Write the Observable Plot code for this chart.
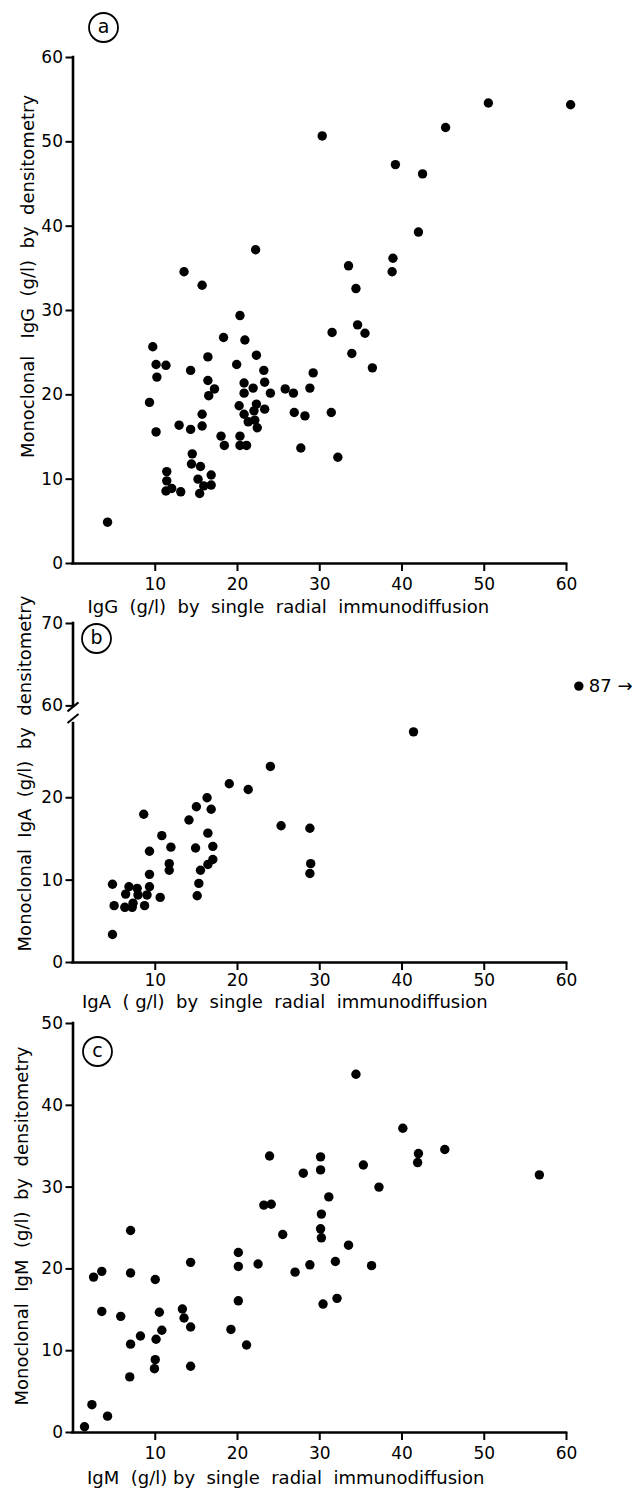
<!DOCTYPE html>
<html><head><meta charset="utf-8">
<script src="https://cdn.jsdelivr.net/npm/d3@7"></script>
<script src="https://cdn.jsdelivr.net/npm/@observablehq/plot@0.6"></script>
<style>
body{margin:0;background:#fff;}
#wrap{position:relative;width:639px;height:1488px;}
#wrap svg{position:absolute;left:0;overflow:visible;background:transparent;}
#wrap svg text{white-space:pre;}
</style></head><body><div id="wrap"></div>
<script>
// ---------- (a) IgG ----------
const igG_srid = [4.2,9.3,9.7,10.1,10.2,10.1,11.3,11.4,11.4,11.3,12.0,12.9,13.1,14.3,14.3,14.5,14.4,15.5,15.2,15.4,15.9,16.8,16.8,15.7,15.7,16.4,16.4,16.5,17.2,18.0,18.4,18.3,19.9,20.3,20.2,20.3,20.3,21.1,20.9,20.8,20.8,20.8,21.3,21.9,22.0,22.1,22.3,22.4,22.3,23.2,23.3,23.3,24.0,25.8,26.8,26.9,27.7,28.2,28.8,29.2,31.5,31.4,32.2,33.9,34.6,35.5,36.4,34.4,15.7,13.5,22.2,30.3,50.5,60.5,45.3,39.2,42.5,42.0,33.5,38.9,38.8];
const igG_dens = [4.9,19.1,25.7,23.6,22.1,15.6,23.5,10.9,9.8,8.6,8.9,16.4,8.5,22.9,15.9,13.0,11.8,11.5,10.0,8.3,9.2,10.5,9.3,17.7,16.3,24.5,21.7,19.9,20.7,15.1,14.0,26.8,23.6,29.4,18.7,15.1,14.0,14.0,26.5,21.4,20.2,17.7,16.8,20.8,18.1,17.0,18.9,16.1,24.7,22.9,21.5,18.3,20.2,20.7,20.2,17.9,13.7,17.5,20.8,22.6,27.4,17.9,12.6,24.9,28.3,27.3,23.2,32.6,33.0,34.6,37.2,50.7,54.6,54.4,51.7,47.3,46.2,39.3,35.3,36.2,34.6];
// ---------- (b) IgA ----------
const igA_srid = [4.8,5.0,4.8,6.4,6.8,6.3,7.2,7.3,7.8,7.9,8.7,8.6,9.0,9.3,9.3,9.3,10.6,10.8,11.9,11.7,11.7,14.1,14.9,15.0,15.1,15.3,15.5,16.3,16.4,16.4,16.8,17.0,17.0,19.0,21.3,24.0,25.3,28.8,28.9,28.8,41.4];
const igA_dens = [9.5,6.9,3.4,8.3,9.2,6.7,6.7,7.2,9.0,8.2,6.9,18.0,8.2,9.2,10.7,13.5,7.9,15.4,14.0,12.0,11.2,17.3,13.9,18.9,8.1,9.6,11.2,20.0,15.7,11.9,18.6,14.1,12.5,21.7,21.0,23.8,16.6,16.3,12.0,10.8,28.0];
const igA_outlier = {srid: 87, dens: 62.4, label: "87 \u2192"};
// ---------- (c) IgM ----------
const igM_srid = [1.4,2.3,4.2,2.5,3.5,3.5,5.8,7.0,7.0,7.0,6.9,8.2,10.0,10.1,10.0,9.9,10.5,10.8,13.3,13.5,14.3,14.3,14.3,19.2,20.1,20.1,20.1,21.1,22.5,23.2,24.1,23.9,25.5,27.0,28.0,28.8,30.1,30.1,30.2,30.1,30.2,30.4,31.1,31.9,32.1,33.5,34.4,35.3,36.3,37.2,40.1,41.9,42.0,45.2,56.7];
const igM_dens = [0.7,3.4,2.0,19.0,19.7,14.8,14.2,24.7,19.5,10.8,6.8,11.8,18.7,11.4,8.9,7.8,14.7,12.5,15.1,14.0,20.8,12.9,8.1,12.6,16.1,20.3,22.0,10.7,20.6,27.8,27.9,33.8,24.2,19.6,31.7,20.5,33.7,32.1,26.7,24.9,23.8,15.7,28.8,20.9,16.4,22.9,43.8,32.7,20.4,30.0,37.2,33.0,34.1,34.6,31.5];

// ---------- ticks & labels ----------
const xTicks = [10,20,30,40,50,60];
const yTicksA = [0,10,20,30,40,50,60];
const yTicksB = [0,10,20,60,70];
const yTicksC = [0,10,20,30,40,50];
const yBreakB = [29,60];   // axis break between these values (panel b)
const yTopB = 70;
const xTitles = ["IgG  (g/l)  by  single  radial  immunodiffusion", "IgA  ( g/l)  by  single  radial  immunodiffusion", "IgM  (g/l) by  single  radial  immunodiffusion"];
const yTitles = ["Monoclonal   IgG  (g/l)  by  densitometry", "Monoclonal  IgA  (g/l)  by  densitometry", "Monoclonal  IgM  (g/l)  by  densitometry"];
const letters = ["a","b","c"];

const FONT = "DejaVu Sans";
const X_MAX = 60;
const wrap = document.getElementById("wrap");

// broken-axis mapping for panel b: values above the break are shifted down
const BREAK_GAP = 2.15;
const yb = v => v <= yBreakB[0] ? v : yBreakB[0] + BREAK_GAP + (v - yBreakB[1]);

function panel(o) {
  const fy = o.fy || (v => v);
  const pts = o.xs.map((x, i) => ({x, y: o.ys[i]}));
  const tickVals = o.yTicks.map(fy);
  const marks = [
    Plot.ruleY([0], {x1: 0, x2: X_MAX, strokeWidth: 2.6, strokeLinecap: "square"}),
    ...o.yAxisSegments.map(([a, b]) => Plot.ruleX([0], {y1: fy(a), y2: fy(b), strokeWidth: 2.6, strokeLinecap: "square"})),
    Plot.axisX({ticks: xTicks, tickSize: 8, tickPadding: o.xTickPad, strokeWidth: 2, fontSize: 17, label: null, tickFormat: d => String(d)}),
    Plot.axisY({ticks: tickVals, tickSize: 7, tickPadding: 3, strokeWidth: 2, fontSize: 17, label: null, tickFormat: d => String(o.yTicks[tickVals.indexOf(d)])}),
    Plot.dot(pts, {x: "x", y: d => fy(d.y), r: 4.7, fill: "black", stroke: "none"}),
    Plot.text([o.xTitle], {text: d => d, frameAnchor: "bottom", textAnchor: "middle", lineAnchor: "middle", dx: o.xTitleDx, dy: o.xTitleDy, fontSize: 18}),
    Plot.text([o.yTitle], {text: d => d, frameAnchor: "left", textAnchor: "middle", lineAnchor: "middle", rotate: -90, dx: o.yTitleDx, dy: o.yTitleDy, fontSize: 18}),
    Plot.dot([o.letter], {frameAnchor: "top-left", dx: o.letterDx, dy: o.letterDy, r: 14.5, fill: "none", stroke: "black", strokeWidth: 1.8}),
    Plot.text([o.letter], {text: d => d, frameAnchor: "top-left", textAnchor: "middle", lineAnchor: "middle", dx: o.letterDx, dy: o.letterDy - 1, fontSize: 19})
  ];
  if (o.extra) marks.push(...o.extra);
  const svg = Plot.plot({
    width: 639, height: o.height,
    marginLeft: 72.5, marginRight: 73, marginTop: o.mTop, marginBottom: o.mBottom,
    style: {fontFamily: FONT, fontSize: "17px", color: "black", background: "transparent", overflow: "visible"},
    x: {domain: [0, X_MAX]},
    y: {domain: [fy(o.yDomain[0]), fy(o.yDomain[1])]},
    marks
  });
  svg.style.top = o.top + "px";
  wrap.appendChild(svg);
}

// (a)
panel({top: 0, height: 615, mTop: 57, mBottom: 52, yDomain: [0, 60], yTicks: yTicksA,
  yAxisSegments: [[0, 60]], xs: igG_srid, ys: igG_dens, xTickPad: 6,
  xTitle: xTitles[0], xTitleDx: -31.5, xTitleDy: 44,
  yTitle: yTitles[0], yTitleDx: -45, yTitleDy: -34,
  letter: letters[0], letterDx: 30.5, letterDy: -30});

// (b) broken y axis
const slash = {draw(ctx) { ctx.moveTo(-5.5, 4.5); ctx.lineTo(5.5, -4.5); }};
panel({top: 615, height: 393, mTop: 8, mBottom: 46, yDomain: [0, yTopB], fy: yb,
  yTicks: yTicksB, yAxisSegments: [[0, yBreakB[0]], [yBreakB[1], yTopB]], xs: igA_srid, ys: igA_dens, xTickPad: 3,
  xTitle: xTitles[1], xTitleDx: -35, xTitleDy: 40,
  yTitle: yTitles[1], yTitleDx: -48, yTitleDy: -19.5,
  letter: letters[1], letterDx: 23.5, letterDy: 15,
  extra: [
    Plot.dot([yBreakB[1]], {x: 0, y: d => yb(d), symbol: slash, stroke: "black", strokeWidth: 2, fill: "none", dy: 1}),
    Plot.dot([yBreakB[0]], {x: 0, y: d => yb(d), symbol: slash, stroke: "black", strokeWidth: 2, fill: "none", dy: -5}),
    Plot.dot([igA_outlier], {x: () => X_MAX + 1.5, y: d => yb(d.dens), r: 4.7, fill: "black"}),
    Plot.text([igA_outlier], {x: () => X_MAX + 1.5, y: d => yb(d.dens), text: "label", textAnchor: "start", dx: 10, fontSize: 18})
  ]});

// (c)
panel({top: 1008, height: 480, mTop: 15, mBottom: 56, yDomain: [0, 50], yTicks: yTicksC,
  yAxisSegments: [[0, 50]], xs: igM_srid, ys: igM_dens, xTickPad: 6,
  xTitle: xTitles[2], xTitleDx: -34, xTitleDy: 46,
  yTitle: yTitles[2], yTitleDx: -51, yTitleDy: -2,
  letter: letters[2], letterDx: 24.5, letterDy: 28});
</script></body></html>
